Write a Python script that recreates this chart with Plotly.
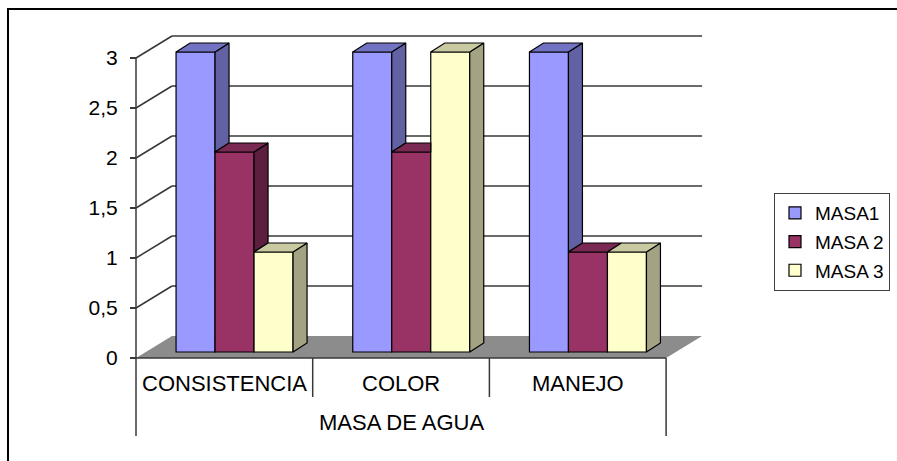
import plotly.graph_objects as go

# ---- data -------------------------------------------------------------
categories = ["CONSISTENCIA", "COLOR", "MANEJO"]
series_names = ["MASA1", "MASA 2", "MASA 3"]
masa1 = [3, 3, 3]
masa2 = [2, 2, 1]
masa3 = [1, 3, 1]
y_ticks = [0, 0.5, 1, 1.5, 2, 2.5, 3]
axis_title = "MASA DE AGUA"

series_values = [masa1, masa2, masa3]

# front / side / top face colours for each series
front_colors = ["#9999FF", "#993366", "#FFFFCC"]
side_colors = ["#6161A3", "#5C1F3E", "#A3A383"]
top_colors = ["#7373C4", "#7A2952", "#C9C9A2"]

FONT = "Liberation Sans, Arial, sans-serif"

# ---- geometry (pixel layout of the plotting area) --------------------
W, H = 897, 461
PL, PR, PT, PB = 120, 897, 20, 445          # plot area edges in px
CAT_PX = 176.7                              # px per category
UNIT_PX = 100.0                             # px per value unit
X0_PX, Y0_PX = 136, 358                     # front-left corner of the floor

x_range = [-0.5 - (X0_PX - PL) / CAT_PX, -0.5 + (PR - X0_PX) / CAT_PX]
y_range = [-(PB - Y0_PX) / UNIT_PX, (Y0_PX - PT) / UNIT_PX]

# depth of the floor / walls, in data units
DX, DY = 36 / CAT_PX, 22 / UNIT_PX
# bars sit part-way into the floor depth
SX, SY = 10.2 / CAT_PX, 6 / UNIT_PX
# depth of each box
BDX, BDY = 14 / CAT_PX, 9 / UNIT_PX
BW = 39 / CAT_PX                            # bar width
AX_BOTTOM = -78 / UNIT_PX                   # lower end of outer table lines
SEP_BOTTOM = -39 / UNIT_PX                  # lower end of inner separators
n_cat = len(categories)
n_ser = len(series_values)

fig = go.Figure()

# front faces of the boxes
for j, (name, vals) in enumerate(zip(series_names, series_values)):
    xs = [i - 1.5 * BW + (j + 0.5) * BW + SX for i in range(n_cat)]
    fig.add_trace(go.Bar(
        x=xs, y=vals, base=[SY] * n_cat, width=[BW] * n_cat, name=name,
        legendgroup=name,
        marker=dict(color=front_colors[j], line=dict(color="#000000", width=1.2)),
    ))

# side and top faces, drawn left to right so neighbours overlap correctly
def poly(pts, color, group):
    xs = [p[0] for p in pts] + [pts[0][0]]
    ys = [p[1] for p in pts] + [pts[0][1]]
    return go.Scatter(x=xs, y=ys, mode="lines", fill="toself", fillcolor=color,
                      line=dict(color="#000000", width=1.2), showlegend=False,
                      legendgroup=group, hoverinfo="skip")

for i in range(n_cat):
    for j in range(n_ser):
        v = series_values[j][i]
        xl = i - 1.5 * BW + j * BW + SX
        xr = xl + BW
        top = SY + v
        nxt = series_values[j + 1][i] if j + 1 < n_ser else None
        # side face: only the part above a neighbouring box
        lower = SY + (nxt if nxt is not None else 0)
        if nxt is None or nxt < v:
            fig.add_trace(poly([(xr, lower), (xr + BDX, lower + BDY),
                                (xr + BDX, top + BDY), (xr, top)],
                               side_colors[j], series_names[j]))
        # top face: clipped where a taller neighbour hides it
        if nxt is not None and nxt > v:
            pts = [(xl, top), (xr, top), (xr, top + BDY), (xl + BDX, top + BDY)]
        else:
            pts = [(xl, top), (xr, top), (xr + BDX, top + BDY), (xl + BDX, top + BDY)]
        fig.add_trace(poly(pts, top_colors[j], series_names[j]))

# ---- floor, back wall grid and category table -------------------------
shapes = []
x_left, x_right = -0.5, n_cat - 0.5
shapes.append(dict(type="path", layer="below", xref="x", yref="y",
                   path=f"M{x_left},0 L{x_right},0 L{x_right + DX},{DY} L{x_left + DX},{DY} Z",
                   fillcolor="#8C8C8C", line=dict(width=0)))
grid_col = "#383838"
for t in y_ticks[1:]:
    shapes.append(dict(type="line", layer="below", xref="x", yref="y",
                       x0=x_left, y0=t, x1=x_left + DX, y1=t + DY,
                       line=dict(color=grid_col, width=1.5)))
    shapes.append(dict(type="line", layer="below", xref="x", yref="y",
                       x0=x_left + DX, y0=t + DY, x1=x_right + DX, y1=t + DY,
                       line=dict(color=grid_col, width=1.5)))
# value axis line and floor front edge
shapes.append(dict(type="line", xref="x", yref="y", x0=x_left, y0=AX_BOTTOM,
                   x1=x_left, y1=y_ticks[-1], line=dict(color=grid_col, width=1.5)))
shapes.append(dict(type="line", xref="x", yref="y", x0=x_left, y0=0,
                   x1=x_right, y1=0, line=dict(color=grid_col, width=1.5)))
shapes.append(dict(type="line", xref="x", yref="y", x0=x_right, y0=AX_BOTTOM,
                   x1=x_right, y1=0, line=dict(color=grid_col, width=1.5)))
for k in range(1, n_cat):
    shapes.append(dict(type="line", xref="x", yref="y", x0=k - 0.5, y0=SEP_BOTTOM,
                       x1=k - 0.5, y1=0, line=dict(color=grid_col, width=1.5)))
# chart border
shapes.append(dict(type="rect", xref="paper", yref="paper",
                   x0=(8 - PL) / (PR - PL), y0=(PB - 470) / (PB - PT),
                   x1=(905 - PL) / (PR - PL), y1=(PB - 9) / (PB - PT),
                   line=dict(color="#000000", width=2)))

annotations = []
for i, c in enumerate(categories):
    annotations.append(dict(x=i, y=-25 / UNIT_PX, xref="x", yref="y", text=c,
                            showarrow=False, font=dict(family=FONT, size=22, color="#000000")))
annotations.append(dict(x=(n_cat - 1) / 2, y=-64 / UNIT_PX, xref="x", yref="y",
                        text=axis_title, showarrow=False,
                        font=dict(family=FONT, size=22, color="#000000")))

fig.update_layout(
    width=W, height=H, autosize=False,
    margin=dict(l=PL, r=W - PR, t=PT, b=H - PB, pad=0),
    paper_bgcolor="#FFFFFF", plot_bgcolor="rgba(0,0,0,0)",
    barmode="overlay", separators=",.",
    font=dict(family=FONT, color="#000000"),
    xaxis=dict(range=x_range, visible=False, fixedrange=True),
    yaxis=dict(range=y_range, visible=False, fixedrange=True),
    yaxis2=dict(range=y_range, overlaying="y", anchor="free",
                position=(X0_PX - PL) / (PR - PL), side="left",
                tickvals=y_ticks, ticks="outside", ticklen=6, tickwidth=1.5,
                tickcolor=grid_col, showgrid=False, zeroline=False, showline=False,
                ticklabelstandoff=8,
                tickfont=dict(family=FONT, size=21, color="#000000")),
    legend=dict(x=(774 - PL) / (PR - PL), y=(PB - 193) / (PB - PT),
                xanchor="left", yanchor="top", bordercolor="#404040", borderwidth=1,
                bgcolor="#FFFFFF", tracegroupgap=1, itemwidth=30,
                font=dict(family=FONT, size=19, color="#000000")),
    shapes=shapes, annotations=annotations, showlegend=True,
)
# an invisible trace keeps the secondary value axis active
fig.add_trace(go.Scatter(x=[x_left], y=[0], yaxis="y2", mode="markers",
                         marker=dict(opacity=0), showlegend=False, hoverinfo="skip"))

fig.write_html("out.html")
